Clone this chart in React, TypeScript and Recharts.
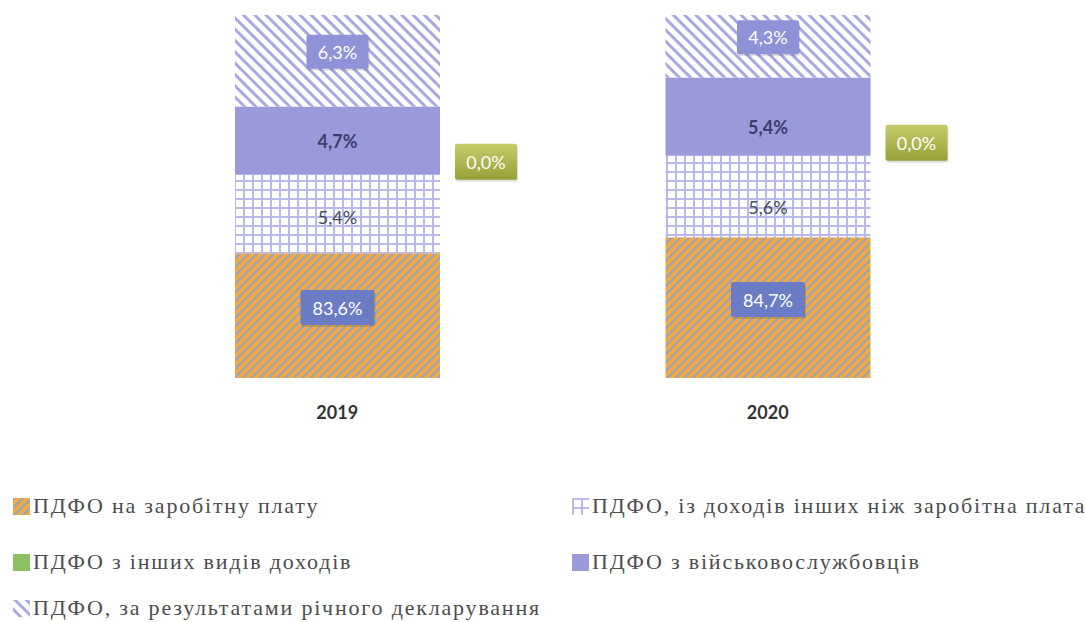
import React from 'react';
import { BarChart, Bar, XAxis, YAxis, LabelList } from 'recharts';

const categories = ['2019', '2020'];
const wage = [83.6, 84.7];
const nonWage = [5.4, 5.6];
const otherTypes = [0.0, 0.0];
const military = [4.7, 5.4];
const declaration = [6.3, 4.3];
const yDomain = [75, 100];

const seriesNames = {
  wage: 'ПДФО на заробітну плату',
  nonWage: 'ПДФО, із доходів інших ніж заробітна плата',
  otherTypes: 'ПДФО з інших видів доходів',
  military: 'ПДФО з військовослужбовців',
  declaration: 'ПДФО, за результатами річного декларування',
};

const data = categories.map((c, i) => ({
  year: c,
  wage: wage[i],
  nonWage: nonWage[i],
  otherTypes: otherTypes[i],
  military: military[i],
  declaration: declaration[i],
}));

const CHART_W = 1086;
const CHART_H = 440;
const MARGIN = { top: 15, right: 103, bottom: 22, left: 122 };
const XAXIS_H = 40;
const PLOT_BOTTOM = CHART_H - MARGIN.bottom - XAXIS_H;
const LABEL_FONT = 'Lato, "Open Sans", sans-serif';
const SERIF = "'Liberation Serif', 'Times New Roman', 'DejaVu Serif', serif";

const fmt = (v: number) => Number(v).toFixed(1).replace('.', ',') + '%';

function getBox(props: any) {
  const vb = props.viewBox || {};
  const x = vb.x ?? props.x;
  const y = vb.y ?? props.y;
  const width = vb.width ?? props.width;
  const height = vb.height ?? props.height;
  return { x, y, width, height };
}

const makeBoxLabel = (fill: string, textFill: string, bw: number, bh: number, dy: number) => (props: any) => {
  const { x, y, width, height } = getBox(props);
  if (x == null) return null;
  const bottom = Math.min(y + height, PLOT_BOTTOM);
  const cx = x + width / 2;
  const cy = (y + bottom) / 2 + dy;
  return (
    <g>
      <rect x={cx - bw / 2 + 1} y={cy - bh / 2 + 2} width={bw} height={bh} fill="#000000" opacity={0.12} rx={2} />
      <rect x={cx - bw / 2} y={cy - bh / 2} width={bw} height={bh} fill={fill} rx={2} />
      <text x={cx} y={cy} textAnchor="middle" dominantBaseline="central" fill={textFill}
        style={{ fontFamily: LABEL_FONT }} fontSize={18}>{fmt(props.value)}</text>
    </g>
  );
};

const makeTextLabel = (textFill: string, weight: number, dys: number[]) => (props: any) => {
  const { x, y, width, height } = getBox(props);
  if (x == null) return null;
  const bottom = Math.min(y + height, PLOT_BOTTOM);
  const cx = x + width / 2;
  const cy = (y + bottom) / 2 + (dys[props.index] ?? 0);
  return (
    <text x={cx} y={cy} textAnchor="middle" dominantBaseline="central" fill={textFill}
      style={{ fontFamily: LABEL_FONT }} fontWeight={weight} fontSize={18}>{fmt(props.value)}</text>
  );
};

// label for the zero-height series, drawn beside the bar at the bottom of the segment above it
const SideLabel = (props: any) => {
  const { x, y, width, height } = getBox(props);
  if (x == null) return null;
  const bx = x + width + 15;
  const cy = y + height - 13;
  return (
    <g>
      <rect x={bx + 1} y={cy - 16} width={62} height={36} fill="#000000" opacity={0.12} rx={2} />
      <rect x={bx} y={cy - 18} width={62} height={36} fill="url(#oliveGrad)" rx={2} />
      <text x={bx + 31} y={cy} textAnchor="middle" dominantBaseline="central" fill="#ffffff"
        style={{ fontFamily: LABEL_FONT }} fontSize={18}>{fmt(props.value)}</text>
    </g>
  );
};

const YearTick = (props: any) => {
  const { x, y, payload } = props;
  return (
    <text x={x} y={y + 41} textAnchor="middle" fill="#333333" style={{ fontFamily: LABEL_FONT }}
      fontWeight={700} fontSize={18}>{payload.value}</text>
  );
};

const PatternDefs = ({ p }: { p: string }) => (
  <defs>
    <pattern id={`${p}orange`} width="6" height="6" patternUnits="userSpaceOnUse" patternTransform="rotate(45)">
      <rect width="6" height="6" fill="#F4AA3C" />
      <rect width="2.2" height="6" fill="#9AA3BC" />
    </pattern>
    <pattern id={`${p}grid`} width="9" height="9" patternUnits="userSpaceOnUse">
      <rect width="9" height="9" fill="#ffffff" />
      <rect width="2" height="9" fill="#B9B9EE" />
      <rect width="9" height="2" fill="#B9B9EE" />
    </pattern>
    <pattern id={`${p}hatch`} width="8" height="8" patternUnits="userSpaceOnUse" patternTransform="rotate(-45)">
      <rect width="8" height="8" fill="#ffffff" />
      <rect width="3" height="8" fill="#A9A9E0" />
    </pattern>
    <linearGradient id={`${p}oliveGrad`} x1="0" y1="0" x2="0" y2="1">
      <stop offset="0%" stopColor="#C6CC6A" />
      <stop offset="100%" stopColor="#97A038" />
    </linearGradient>
  </defs>
);

const legendItems = [
  { key: 'wage', fill: 'url(#lgorange)', x: 13, y: 506 },
  { key: 'nonWage', fill: 'url(#lggrid)', x: 572, y: 506 },
  { key: 'otherTypes', fill: '#8DC063', x: 13, y: 562 },
  { key: 'military', fill: '#9A9ADB', x: 572, y: 562 },
  { key: 'declaration', fill: 'url(#lghatch)', x: 13, y: 608 },
];

export default function App() {
  return (
    <div style={{ position: 'absolute', left: 0, top: 0, width: 1086, height: 622, background: '#ffffff', overflow: 'hidden' }}>
      <BarChart width={CHART_W} height={CHART_H} data={data} margin={MARGIN}>
        <PatternDefs p="" />
        <XAxis dataKey="year" axisLine={false} tickLine={false} tickSize={0} tickMargin={0}
          height={XAXIS_H} tick={<YearTick />} interval={0} />
        <YAxis hide domain={yDomain} allowDataOverflow type="number" />
        <Bar dataKey="wage" stackId="s" fill="url(#orange)" barSize={205} isAnimationActive={false}>
          <LabelList dataKey="wage" content={makeBoxLabel('#6C7CC4', '#ffffff', 74, 35, -8)} />
        </Bar>
        <Bar dataKey="nonWage" stackId="s" fill="url(#grid)" barSize={205} isAnimationActive={false}>
          <LabelList dataKey="nonWage" content={makeTextLabel('#4A4A5A', 400, [3, 10])} />
        </Bar>
        <Bar dataKey="otherTypes" stackId="s" fill="#8DC063" barSize={205} isAnimationActive={false} />
        <Bar dataKey="military" stackId="s" fill="#9A9ADB" barSize={205} isAnimationActive={false}>
          <LabelList dataKey="military" content={makeTextLabel('#3D3D6E', 700, [0, 10])} />
          <LabelList dataKey="otherTypes" content={<SideLabel />} />
        </Bar>
        <Bar dataKey="declaration" stackId="s" fill="url(#hatch)" barSize={205} isAnimationActive={false}>
          <LabelList dataKey="declaration" content={makeBoxLabel('#8E92D6', '#ffffff', 62, 34, -9)} />
        </Bar>
      </BarChart>
      {legendItems.map((it) => (
        <div key={it.key} style={{ position: 'absolute', left: it.x, top: it.y - 13, height: 26, display: 'flex', alignItems: 'center', whiteSpace: 'pre' }}>
          <svg width={17} height={17} style={{ marginRight: 3 }}>
            <PatternDefs p={`lg${it.key}`} />
            <rect width={17} height={17} fill={it.fill.replace('#lg', `#lg${it.key}`)} />
          </svg>
          <span style={{ fontFamily: SERIF, fontSize: 22, color: '#4D4D4D', letterSpacing: 1.8 }}>
            {(seriesNames as any)[it.key]}
          </span>
        </div>
      ))}
    </div>
  );
}
